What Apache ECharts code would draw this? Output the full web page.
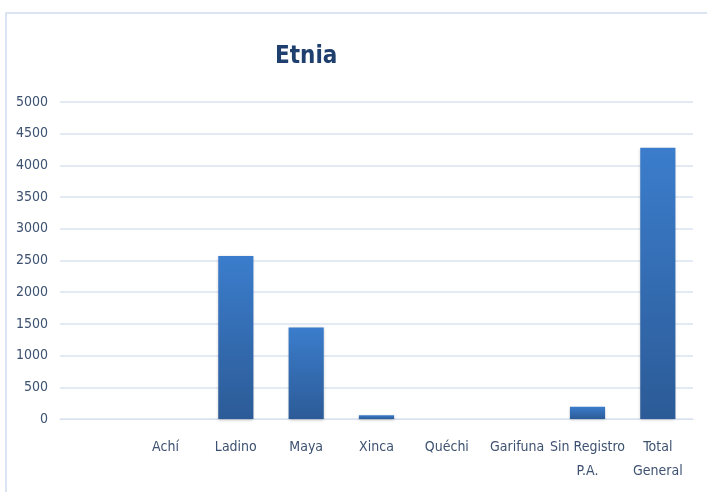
<!DOCTYPE html>
<html>
<head>
<meta charset="utf-8">
<script src="https://cdn.jsdelivr.net/npm/echarts@6/dist/echarts.min.js"></script>
<style>
  html, body { margin: 0; padding: 0; background: #fff; }
  #chart { width: 707px; height: 492px; }
</style>
</head>
<body>
<div id="chart"></div>
<script>
  // datos
  var categorias = ['', 'Achí', 'Ladino', 'Maya', 'Xinca', 'Quéchi', 'Garifuna', 'Sin Registro\nP.A.', 'Total\nGeneral'];
  var valores = [null, 0, 2570, 1445, 60, 0, 0, 195, 4280];
  var ticksY = [0, 500, 1000, 1500, 2000, 2500, 3000, 3500, 4000, 4500, 5000];

  var fuente = "'Liberation Sans Narrow', 'DejaVu Sans Condensed', sans-serif";
  var myChart = echarts.init(document.getElementById('chart'));

  var option = {
    backgroundColor: '#fff',
    animation: false,
    title: {
      text: 'Etnia',
      left: 270,
      top: 40,
      textStyle: { color: '#1f3f6e', fontSize: 24, fontWeight: 'bold', fontFamily: fuente }
    },
    graphic: [{
      type: 'rect',
      shape: { x: 6, y: 13, width: 720, height: 500 },
      style: { fill: 'none', stroke: '#cfdcee', lineWidth: 1.5 },
      silent: true
    }],
    grid: { left: 60, right: 14, top: 102, bottom: 73 },
    xAxis: {
      type: 'category',
      data: categorias,
      axisLine: { lineStyle: { color: '#d9e1ee' } },
      axisTick: { show: false },
      axisLabel: {
        interval: 0, margin: 16, color: '#3d5170',
        fontSize: 14, lineHeight: 24, fontFamily: fuente
      }
    },
    yAxis: {
      type: 'value',
      min: ticksY[0],
      max: ticksY[ticksY.length - 1],
      interval: 500,
      axisLine: { show: false },
      axisTick: { show: false },
      splitLine: { lineStyle: { color: '#dbe3f0', width: 1.5 } },
      axisLabel: {
        margin: 12, color: '#3d5170', fontSize: 14, fontFamily: fuente,
        formatter: function (v) { return String(v); }
      }
    },
    series: [{
      type: 'bar',
      data: valores,
      barWidth: '50%',
      itemStyle: {
        color: new echarts.graphic.LinearGradient(0, 0, 0, 1, [
          { offset: 0, color: '#3b7dcc' },
          { offset: 1, color: '#2c5b97' }
        ]),
        shadowColor: 'rgba(0,0,0,0.25)',
        shadowBlur: 3,
        shadowOffsetY: 1
      }
    }]
  };

  myChart.setOption(option);
</script>
</body>
</html>
